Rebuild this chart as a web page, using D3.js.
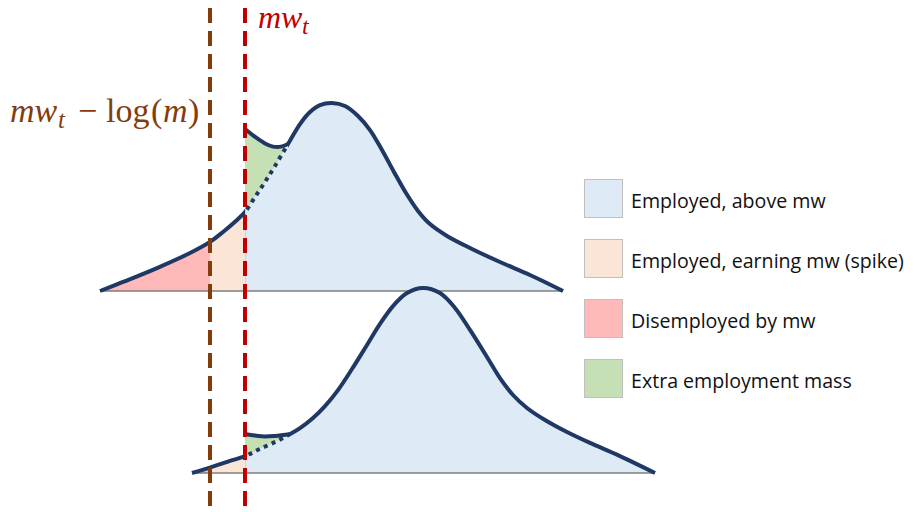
<html lang="en">
    <head>
        <meta charset="utf-8">
        <title>Minimum wage and the wage distribution</title>
        <style>
            body {
                background-color: white;
                margin: 0;
            }
            .legend text {
                font-family: "Open Sans", "Noto Sans", sans-serif;
                font-size: 19.6px;
                fill: #111;
            }
            .math {
                font-family: "Liberation Serif", "DejaVu Serif", serif;
            }
        </style>
    </head>
    <body>
        <div id="chart"></div>
    </body>

    <script src="https://d3js.org/d3.v7.min.js"></script>
    <script type="text/javascript">

        // log wage (x) and density (y)
        var mwLow = 22;   // mw_t - log(m)
        var mw = 29;      // mw_t

        // latent (no minimum wage) density, top panel
        var topLatent = [
            [0, 0], [4.6, 0.048], [11.4, 0.122], [18, 0.202], [22, 0.261], [24.6, 0.314],
            [27.4, 0.378], [29, 0.42], [31, 0.5], [33, 0.58], [35, 0.665], [37.6, 0.782],
            [40, 0.888], [42, 0.952], [44, 0.989], [46.4, 1.0], [49, 0.984], [51.6, 0.931],
            [54, 0.856], [56.4, 0.75], [58.8, 0.633], [61.2, 0.521], [63.6, 0.426],
            [66, 0.356], [69.4, 0.293], [74, 0.229], [80, 0.154], [86, 0.085], [92.6, 0]
        ];
        // observed density just above mw, top panel
        var topSpike = [[29, 0.862], [31, 0.82], [33, 0.785], [34.6, 0.768], [36.2, 0.768], [37.6, 0.782]];

        var botLatent = [
            [18.4, 0], [22, 0.029], [25.6, 0.061], [29, 0.09], [32, 0.128], [35.4, 0.17],
            [38, 0.207], [40, 0.239], [42.6, 0.293], [45, 0.356], [47.6, 0.441],
            [50.4, 0.553], [53.4, 0.681], [56, 0.793], [58.6, 0.888], [61.4, 0.957],
            [64.6, 0.984], [68, 0.957], [71, 0.878], [74, 0.761], [77.4, 0.617], [80, 0.505],
            [82.6, 0.415], [85.4, 0.346], [89, 0.282], [93.4, 0.218], [98, 0.16],
            [104, 0.09], [111, 0]
        ];
        var botSpike = [[29, 0.207], [31, 0.199], [33, 0.194], [35, 0.197], [36.6, 0.202], [38, 0.207]];

        var legendLabels = ["Employed, above mw", "Employed, earning mw (spike)", "Disemployed by mw", "Extra employment mass"];
        var legendColors = ["#DEEBF7", "#FBE5D6", "#FFB9B9", "#C5E0B4"];

        var width = 915;
        var height = 512;
        var navy = "#1F3864";

        var svg = d3.select("#chart")
                    .append("svg")
                    .attr("width", width)
                    .attr("height", height);

        var x = d3.scaleLinear().domain([0, 111]).range([100, 655]);
        var yTop = d3.scaleLinear().domain([0, 1]).range([291, 103]);
        var yBot = d3.scaleLinear().domain([0, 1]).range([473, 285]);

        var defs = svg.append("defs");
        function clip(id, x0, x1) {
            defs.append("clipPath").attr("id", id)
                .append("rect")
                .attr("x", x(x0)).attr("y", 0)
                .attr("width", x(x1) - x(x0)).attr("height", height);
            return "url(#" + id + ")";
        }

        function panel(name, latent, spike, y) {
            var g = svg.append("g");
            var merge = spike[spike.length - 1][0];
            var curve = d3.curveCatmullRom.alpha(0.5);

            var area = d3.area().curve(curve)
                .x(function(d){ return x(d[0]); })
                .y0(y(0))
                .y1(function(d){ return y(d[1]); });
            var line = d3.line().curve(curve)
                .x(function(d){ return x(d[0]); })
                .y(function(d){ return y(d[1]); });

            g.append("path").attr("d", area(latent)).attr("fill", legendColors[2])
                .attr("clip-path", clip(name + "-dis", -10, mwLow));
            g.append("path").attr("d", area(latent)).attr("fill", legendColors[1])
                .attr("clip-path", clip(name + "-spk", mwLow, mw));
            g.append("path").attr("d", area(spike)).attr("fill", legendColors[3]);
            g.append("path").attr("d", area(latent)).attr("fill", legendColors[0])
                .attr("clip-path", clip(name + "-emp", mw + 0.2, 120));

            var ext = d3.extent(latent, function(d){ return d[0]; });
            g.append("line")
                .attr("x1", x(ext[0])).attr("x2", x(ext[1]))
                .attr("y1", y(0)).attr("y2", y(0))
                .attr("stroke", "#7F7F7F").attr("stroke-width", 1.5);

            return function() {
                g.append("path").attr("d", line(latent)).attr("fill", "none")
                    .attr("stroke", navy).attr("stroke-width", 4)
                    .attr("clip-path", clip(name + "-l1", -10, mw));
                g.append("path").attr("d", line(latent)).attr("fill", "none")
                    .attr("stroke", navy).attr("stroke-width", 4)
                    .attr("stroke-dasharray", "4,4.5")
                    .attr("clip-path", clip(name + "-l2", mw, merge));
                g.append("path").attr("d", line(latent)).attr("fill", "none")
                    .attr("stroke", navy).attr("stroke-width", 4)
                    .attr("clip-path", clip(name + "-l3", merge, 120));
                g.append("path").attr("d", line(spike)).attr("fill", "none")
                    .attr("stroke", navy).attr("stroke-width", 4);
            };
        }

        var drawTop = panel("top", topLatent, topSpike, yTop);
        var drawBot = panel("bot", botLatent, botSpike, yBot);

        // vertical dashed markers
        svg.append("line")
            .attr("x1", x(mwLow)).attr("x2", x(mwLow))
            .attr("y1", 8).attr("y2", height)
            .attr("stroke", "#843C0C").attr("stroke-width", 4)
            .attr("stroke-dasharray", "15,8");
        svg.append("line")
            .attr("x1", x(mw)).attr("x2", x(mw))
            .attr("y1", 8).attr("y2", height)
            .attr("stroke", "#C00000").attr("stroke-width", 4)
            .attr("stroke-dasharray", "15,8");

        drawTop();
        drawBot();

        // labels
        var red = svg.append("text").attr("class", "math")
            .attr("fill", "#C00000").attr("font-size", 32);
        red.append("tspan").attr("x", x(mw) + 13).attr("y", 28)
            .attr("font-style", "italic").text("mw");
        red.append("tspan").attr("x", x(mw) + 57).attr("y", 34).attr("font-size", 24)
            .attr("font-style", "italic").text("t");

        var brown = svg.append("text").attr("class", "math")
            .attr("fill", "#843C0C").attr("font-size", 34);
        brown.append("tspan").attr("x", 10).attr("y", 122).attr("font-style", "italic").text("mw");
        brown.append("tspan").attr("x", 58).attr("y", 128).attr("font-size", 25).attr("font-style", "italic").text("t");
        brown.append("tspan").attr("x", 78).attr("y", 122).text("\u2212");
        brown.append("tspan").attr("x", 106).attr("y", 122).text("log");
        brown.append("tspan").attr("x", 151).attr("y", 122).text("(");
        brown.append("tspan").attr("x", 163).attr("y", 122).attr("font-style", "italic").text("m");
        brown.append("tspan").attr("x", 188).attr("y", 122).text(")");

        // legend
        var legend = svg.append("g").attr("class", "legend")
            .attr("transform", "translate(584,179)");
        var rows = legend.selectAll("g")
            .data(legendLabels)
            .enter()
            .append("g")
            .attr("transform", function(d, i){ return "translate(0," + (i * 60) + ")"; });
        rows.append("rect")
            .attr("x", 0.5).attr("y", 0.5)
            .attr("width", 38).attr("height", 38)
            .attr("fill", function(d, i){ return legendColors[i]; })
            .attr("stroke", "#BFBFBF").attr("stroke-width", 1);
        rows.append("text")
            .attr("x", 47).attr("y", 29)
            .text(function(d){ return d; });

    </script>
</html>
